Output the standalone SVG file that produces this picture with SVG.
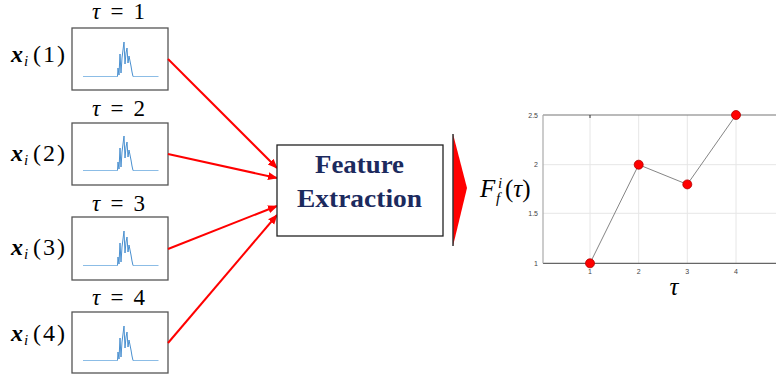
<svg xmlns="http://www.w3.org/2000/svg" width="776" height="378" viewBox="0 0 776 378">
<style>
.math{font-family:"Liberation Serif","Times New Roman",serif;fill:#000}
.tau{font-family:"Liberation Serif","Times New Roman",serif;fill:#000;font-size:23px}
.box{fill:#fff;stroke:#555;stroke-width:1.3}
.sig{fill:none;stroke:#4a90d0;stroke-width:1;stroke-linejoin:round}
.base{fill:none;stroke:#8cbde6;stroke-width:1}
.arrow{stroke:#ff0000;stroke-width:2;fill:none;marker-end:url(#ah)}
.grid{stroke:#e6e6e6;stroke-width:1}
.tick{font-family:"Liberation Sans",Arial,sans-serif;font-size:7px;fill:#444}
.fe{font-family:"Liberation Serif","Times New Roman",serif;font-weight:bold;font-size:25px;fill:#1c2a5e}
</style>
<defs>
<marker id="ah" markerUnits="userSpaceOnUse" markerWidth="10" markerHeight="10" viewBox="0 0 10 10" refX="9" refY="5" orient="auto">
<path d="M0,1 L10,5 L0,9 Z" fill="#ff0000"/>
</marker>
<g id="signal">
<path class="base" d="M11,48.5 L45.5,48.5 M61,48.5 L86.5,48.5"/>
<path class="sig" d="M45.5,48.5 L46,40 L47,47 L48,26 L49,45 L50,30 L51,22 L52,14 L53,36 L54,25 L55,20 L56,35 L57,28 L58,33 L59,38 L60,44 L61,48.5"/>
</g>
</defs>

<g id="input1">
<text class="tau" x="118.5" y="19" text-anchor="middle" font-style="italic" textLength="53" lengthAdjust="spacing">τ<tspan font-style="normal"> = 1</tspan></text>
<rect class="box" x="72" y="28" width="96" height="62"/>
<use href="#signal" x="72" y="28"/>
<text class="math" y="62" font-size="24"><tspan x="11" font-weight="bold" font-style="italic">x</tspan><tspan x="24" dy="4" font-size="15" font-style="italic">i</tspan><tspan x="33" dy="-4" textLength="32" lengthAdjust="spacing">(1)</tspan></text>
</g>

<g id="input2">
<text class="tau" x="118.5" y="116" text-anchor="middle" font-style="italic" textLength="53" lengthAdjust="spacing">τ<tspan font-style="normal"> = 2</tspan></text>
<rect class="box" x="72" y="123" width="96" height="62"/>
<use href="#signal" x="72" y="122"/>
<text class="math" y="161" font-size="24"><tspan x="11" font-weight="bold" font-style="italic">x</tspan><tspan x="24" dy="4" font-size="15" font-style="italic">i</tspan><tspan x="33" dy="-4" textLength="32" lengthAdjust="spacing">(2)</tspan></text>
</g>

<g id="input3">
<text class="tau" x="118.5" y="211" text-anchor="middle" font-style="italic" textLength="53" lengthAdjust="spacing">τ<tspan font-style="normal"> = 3</tspan></text>
<rect class="box" x="72" y="217" width="96" height="63"/>
<use href="#signal" x="72" y="217"/>
<text class="math" y="255" font-size="24"><tspan x="11" font-weight="bold" font-style="italic">x</tspan><tspan x="24" dy="4" font-size="15" font-style="italic">i</tspan><tspan x="33" dy="-4" textLength="32" lengthAdjust="spacing">(3)</tspan></text>
</g>

<g id="input4">
<text class="tau" x="118.5" y="305" text-anchor="middle" font-style="italic" textLength="53" lengthAdjust="spacing">τ<tspan font-style="normal"> = 4</tspan></text>
<rect class="box" x="72" y="312" width="96" height="61"/>
<use href="#signal" x="72" y="312"/>
<text class="math" y="341" font-size="24"><tspan x="11" font-weight="bold" font-style="italic">x</tspan><tspan x="24" dy="4" font-size="15" font-style="italic">i</tspan><tspan x="33" dy="-4" textLength="32" lengthAdjust="spacing">(4)</tspan></text>
</g>

<g id="connectors">
<line class="arrow" x1="168" y1="59" x2="277" y2="168"/>
<line class="arrow" x1="168" y1="154" x2="277" y2="178"/>
<line class="arrow" x1="168" y1="249" x2="277" y2="206"/>
<line class="arrow" x1="168" y1="343" x2="277" y2="215"/>
</g>

<g id="feature-extraction">
<rect x="277" y="145" width="166" height="91" fill="#fff" stroke="#222" stroke-width="1.3"/>
<text class="fe" x="359.5" y="173" text-anchor="middle" textLength="89" lengthAdjust="spacingAndGlyphs">Feature</text>
<text class="fe" x="359.5" y="207" text-anchor="middle" textLength="125" lengthAdjust="spacingAndGlyphs">Extraction</text>
</g>

<g id="big-arrow">
<polygon points="453,134 467,188 453,246" fill="#ff0000"/>
<line x1="453" y1="134" x2="453" y2="246" stroke="#333" stroke-width="1.5"/>
</g>

<g id="chart">
<g class="grid">
<line x1="590" y1="115" x2="590" y2="263"/>
<line x1="638.7" y1="115" x2="638.7" y2="263"/>
<line x1="687.3" y1="115" x2="687.3" y2="263"/>
<line x1="736" y1="115" x2="736" y2="263"/>
<line x1="543" y1="164.7" x2="776" y2="164.7"/>
<line x1="543" y1="213.3" x2="776" y2="213.3"/>
</g>
<line x1="543" y1="115" x2="776" y2="115" stroke="#777" stroke-width="1.2"/>
<line x1="543" y1="263.3" x2="776" y2="263.3" stroke="#666" stroke-width="1.2"/>
<line x1="543" y1="115" x2="543" y2="263.3" stroke="#aaa" stroke-width="1.2"/>
<line x1="590" y1="115" x2="590" y2="118" stroke="#333" stroke-width="1"/>
<text class="tick" x="538" y="117.5" text-anchor="end">2.5</text>
<text class="tick" x="538" y="167" text-anchor="end">2</text>
<text class="tick" x="538" y="216" text-anchor="end">1.5</text>
<text class="tick" x="538" y="266" text-anchor="end">1</text>
<text class="tick" x="590" y="274" text-anchor="middle">1</text>
<text class="tick" x="638.7" y="274" text-anchor="middle">2</text>
<text class="tick" x="687.3" y="274" text-anchor="middle">3</text>
<text class="tick" x="736" y="274" text-anchor="middle">4</text>
<polyline points="590,263.3 638.7,164.7 687.3,184.4 736,115" fill="none" stroke="#666" stroke-width="0.8"/>
<g fill="#ff0000" stroke="#b00000" stroke-width="0.8">
<circle cx="590" cy="263.3" r="4.5"/>
<circle cx="638.7" cy="164.7" r="4.5"/>
<circle cx="687.3" cy="184.4" r="4.5"/>
<circle cx="736" cy="115" r="4.5"/>
</g>
<text class="math" y="197" font-size="25" font-style="italic"><tspan x="480">F</tspan><tspan x="496" dy="6" font-size="15">f</tspan><tspan x="498" dy="-15" font-size="15">i</tspan><tspan x="505" dy="9" font-style="normal">(</tspan><tspan>τ</tspan><tspan font-style="normal">)</tspan></text>
<text class="math" x="674" y="295" font-size="25" font-style="italic" text-anchor="middle">τ</text>
</g>
</svg>
